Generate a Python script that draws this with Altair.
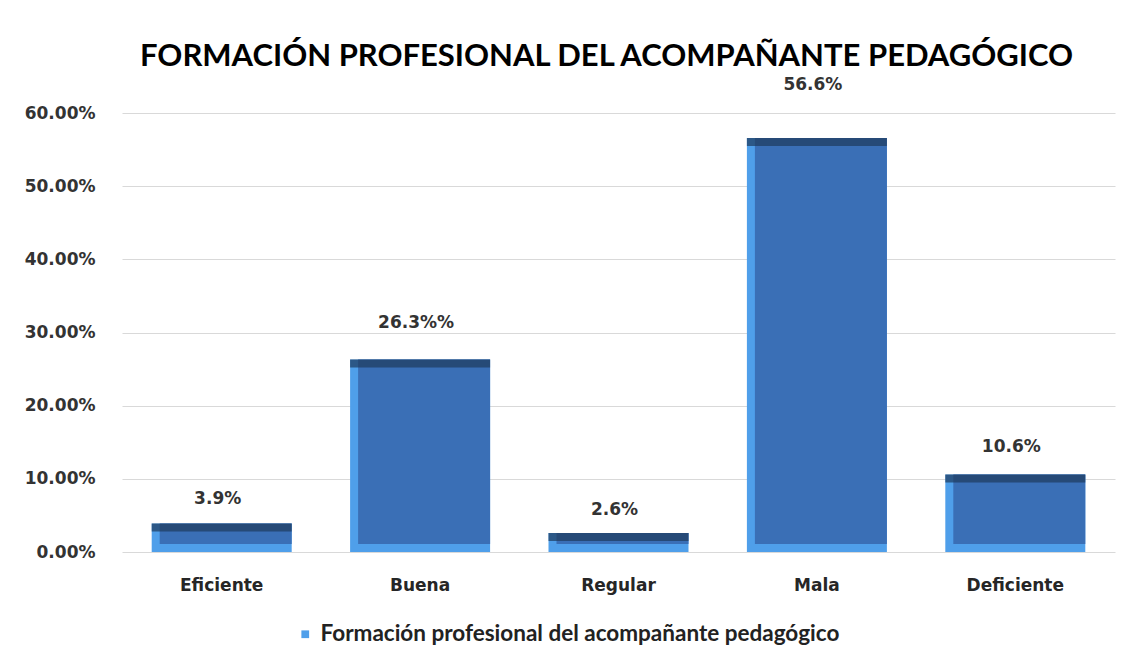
import altair as alt
import pandas as pd

titulo = "FORMACIÓN PROFESIONAL DEL ACOMPAÑANTE PEDAGÓGICO"
serie = "Formación profesional del acompañante pedagógico"
categorias = ["Eficiente", "Buena", "Regular", "Mala", "Deficiente"]
valores = [0.039, 0.263, 0.026, 0.566, 0.106]
etiquetas = ["3.9%", "26.3%%", "2.6%", "56.6%", "10.6%"]
ticks_y = [0.0, 0.1, 0.2, 0.3, 0.4, 0.5, 0.6]

df = pd.DataFrame({
    "categoria": categorias,
    "valor": valores,
    "etiqueta": etiquetas,
    "serie": [serie] * len(categorias),
})

x = alt.X(
    "categoria:N",
    sort=categorias,
    scale=alt.Scale(paddingInner=0.295, paddingOuter=0.15),
    axis=alt.Axis(
        title=None, labelAngle=0, domain=False, ticks=False,
        labelFont="DejaVu Sans", labelFontWeight="bold", labelFontSize=17,
        labelColor="#262626", labelPadding=25,
    ),
)
y = alt.Y(
    "valor:Q",
    scale=alt.Scale(domain=[0, 0.6], nice=False),
    axis=alt.Axis(
        title=None, format=".2%", values=ticks_y, domain=False, ticks=False,
        labelFont="DejaVu Sans", labelFontWeight="bold", labelFontSize=17,
        labelColor="#333333", labelPadding=27, gridColor="#d9d9d9",
    ),
)

base = alt.Chart(df)

outer = base.mark_bar(width=140).encode(
    x=x, y=y,
    color=alt.Color(
        "serie:N",
        scale=alt.Scale(range=["#4F9FEA"]),
        legend=alt.Legend(
            title=None, orient="none", legendX=172, legendY=510,
            symbolType="square", symbolSize=60,
            labelFont="Lato", labelFontWeight="bold", labelFontSize=22.5,
            labelColor="#222222", labelLimit=800,
        ),
    ),
)

inner = base.mark_bar(width=132, xOffset=4, y2Offset=-8, color="#3A6FB6").encode(
    x=x, y=y, y2=alt.datum(0)
)

top_edge = base.mark_tick(color="#1E3A5C", thickness=8, size=140, yOffset=4).encode(
    x=x, y=y
)

labels = base.transform_calculate(
    pos="datum.valor * 1.074 + 0.03"
).mark_text(
    font="DejaVu Sans", fontWeight="bold", fontSize=17, color="#333333", dx=-4
).encode(
    x=x,
    y=alt.Y("pos:Q"),
    text=alt.Text("etiqueta:N"),
)

chart = alt.layer(outer, inner, top_edge, labels).properties(
    width=993,
    height=439,
    autosize=alt.AutoSizeParams(type="none"),
    padding={"left": 114, "top": 105, "right": 5, "bottom": 100},
    title=alt.TitleParams(
        titulo, font="Lato", fontWeight="bold", fontSize=31,
        color="#000000", anchor="middle", offset=3, dx=-12,
    ),
).configure_view(stroke=None)

chart.save("out.html", embed_options={"renderer": "svg", "actions": False})
